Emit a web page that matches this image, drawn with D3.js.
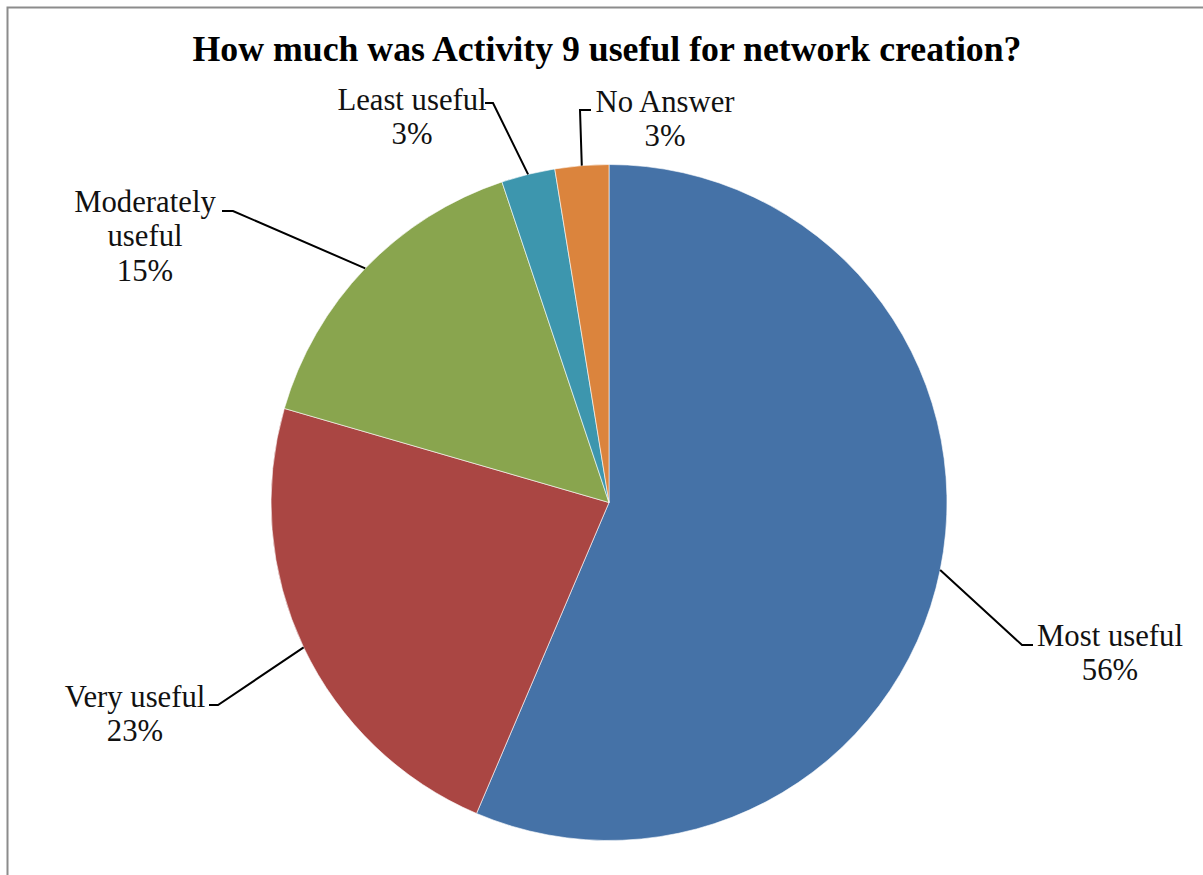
<!DOCTYPE html>
<html>
<head>
<meta charset="utf-8">
<script src="https://cdn.jsdelivr.net/npm/d3@7/dist/d3.min.js"></script>
<style>
  html, body { margin: 0; padding: 0; background: #fff; }
  svg { display: block; }
</style>
</head>
<body>
<svg id="chart" width="1203" height="875"></svg>
<script>
// Survey responses (number of respondents per answer)
const categories = ["Most useful", "Very useful", "Moderately useful", "Least useful", "No Answer"];
const counts = [22, 9, 6, 1, 1];
const colors = ["#4572A7", "#AA4643", "#89A54E", "#3D96AE", "#DB843D"];
const title = "How much was Activity 9 useful for network creation?";

// Label placement: text lines, centre of text block, leader elbow and end
const labelLines = [
  ["Most useful"],
  ["Very useful"],
  ["Moderately", "useful"],
  ["Least useful"],
  ["No Answer"]
];
const labelLayout = [
  { x: 1110, y: 646, elbow: [1022, 645], end: [1033, 645] },
  { x: 135,  y: 707, elbow: [218, 705],  end: [209, 705] },
  { x: 145,  y: 212, elbow: [233, 211],  end: [222, 211] },
  { x: 412,  y: 110, elbow: [493, 103],  end: [485, 103] },
  { x: 665,  y: 112, elbow: [580, 110],  end: [591, 110] }
];

const svg = d3.select("#chart");
const W = 1203, H = 875;
const font = "'Liberation Serif', 'Times New Roman', serif";

// outer frame
svg.append("rect")
  .attr("x", 7.5).attr("y", 7.5)
  .attr("width", W + 20).attr("height", H + 20)
  .attr("fill", "#fff")
  .attr("stroke", "#8c8c8c")
  .attr("stroke-width", 2);

svg.append("text")
  .attr("x", 607).attr("y", 61)
  .attr("text-anchor", "middle")
  .attr("font-family", font)
  .attr("font-weight", "bold")
  .attr("font-size", 36)
  .attr("textLength", 829)
  .attr("lengthAdjust", "spacingAndGlyphs")
  .text(title);

const cx = 609, cy = 502.5, r = 338;
const total = d3.sum(counts);
const data = categories.map((c, i) => ({ name: c, value: counts[i], color: colors[i], i }));

const pie = d3.pie().value(d => d.value).sort(null);
const arc = d3.arc().innerRadius(0).outerRadius(r);
const arcs = pie(data);

const g = svg.append("g").attr("transform", `translate(${cx},${cy})`);
g.selectAll("path.slice")
  .data(arcs)
  .join("path")
  .attr("class", "slice")
  .attr("d", arc)
  .attr("fill", d => d.data.color)
  .attr("stroke", "#ffffff")
  .attr("stroke-width", 0.6);

// leader lines from the slice rim to each label
arcs.forEach((a, i) => {
  const mid = (a.startAngle + a.endAngle) / 2;
  const px = cx + r * Math.sin(mid);
  const py = cy - r * Math.cos(mid);
  const L = labelLayout[i];
  svg.append("polyline")
    .attr("points", [[px, py], L.elbow, L.end].map(p => p.join(",")).join(" "))
    .attr("fill", "none")
    .attr("stroke", "#000")
    .attr("stroke-width", 2);

  const pct = Math.round(a.data.value / total * 100) + "%";
  const lines = labelLines[i].concat([pct]);
  const t = svg.append("g")
    .attr("transform", `translate(${L.x},${L.y}) scale(0.96,1)`)
    .append("text")
    .attr("text-anchor", "middle")
    .attr("font-family", font)
    .attr("font-size", 32)
    .attr("fill", "#111");
  lines.forEach((ln, k) => {
    t.append("tspan")
      .attr("x", 0)
      .attr("y", k * 34.5)
      .text(ln);
  });
});
</script>
</body>
</html>
